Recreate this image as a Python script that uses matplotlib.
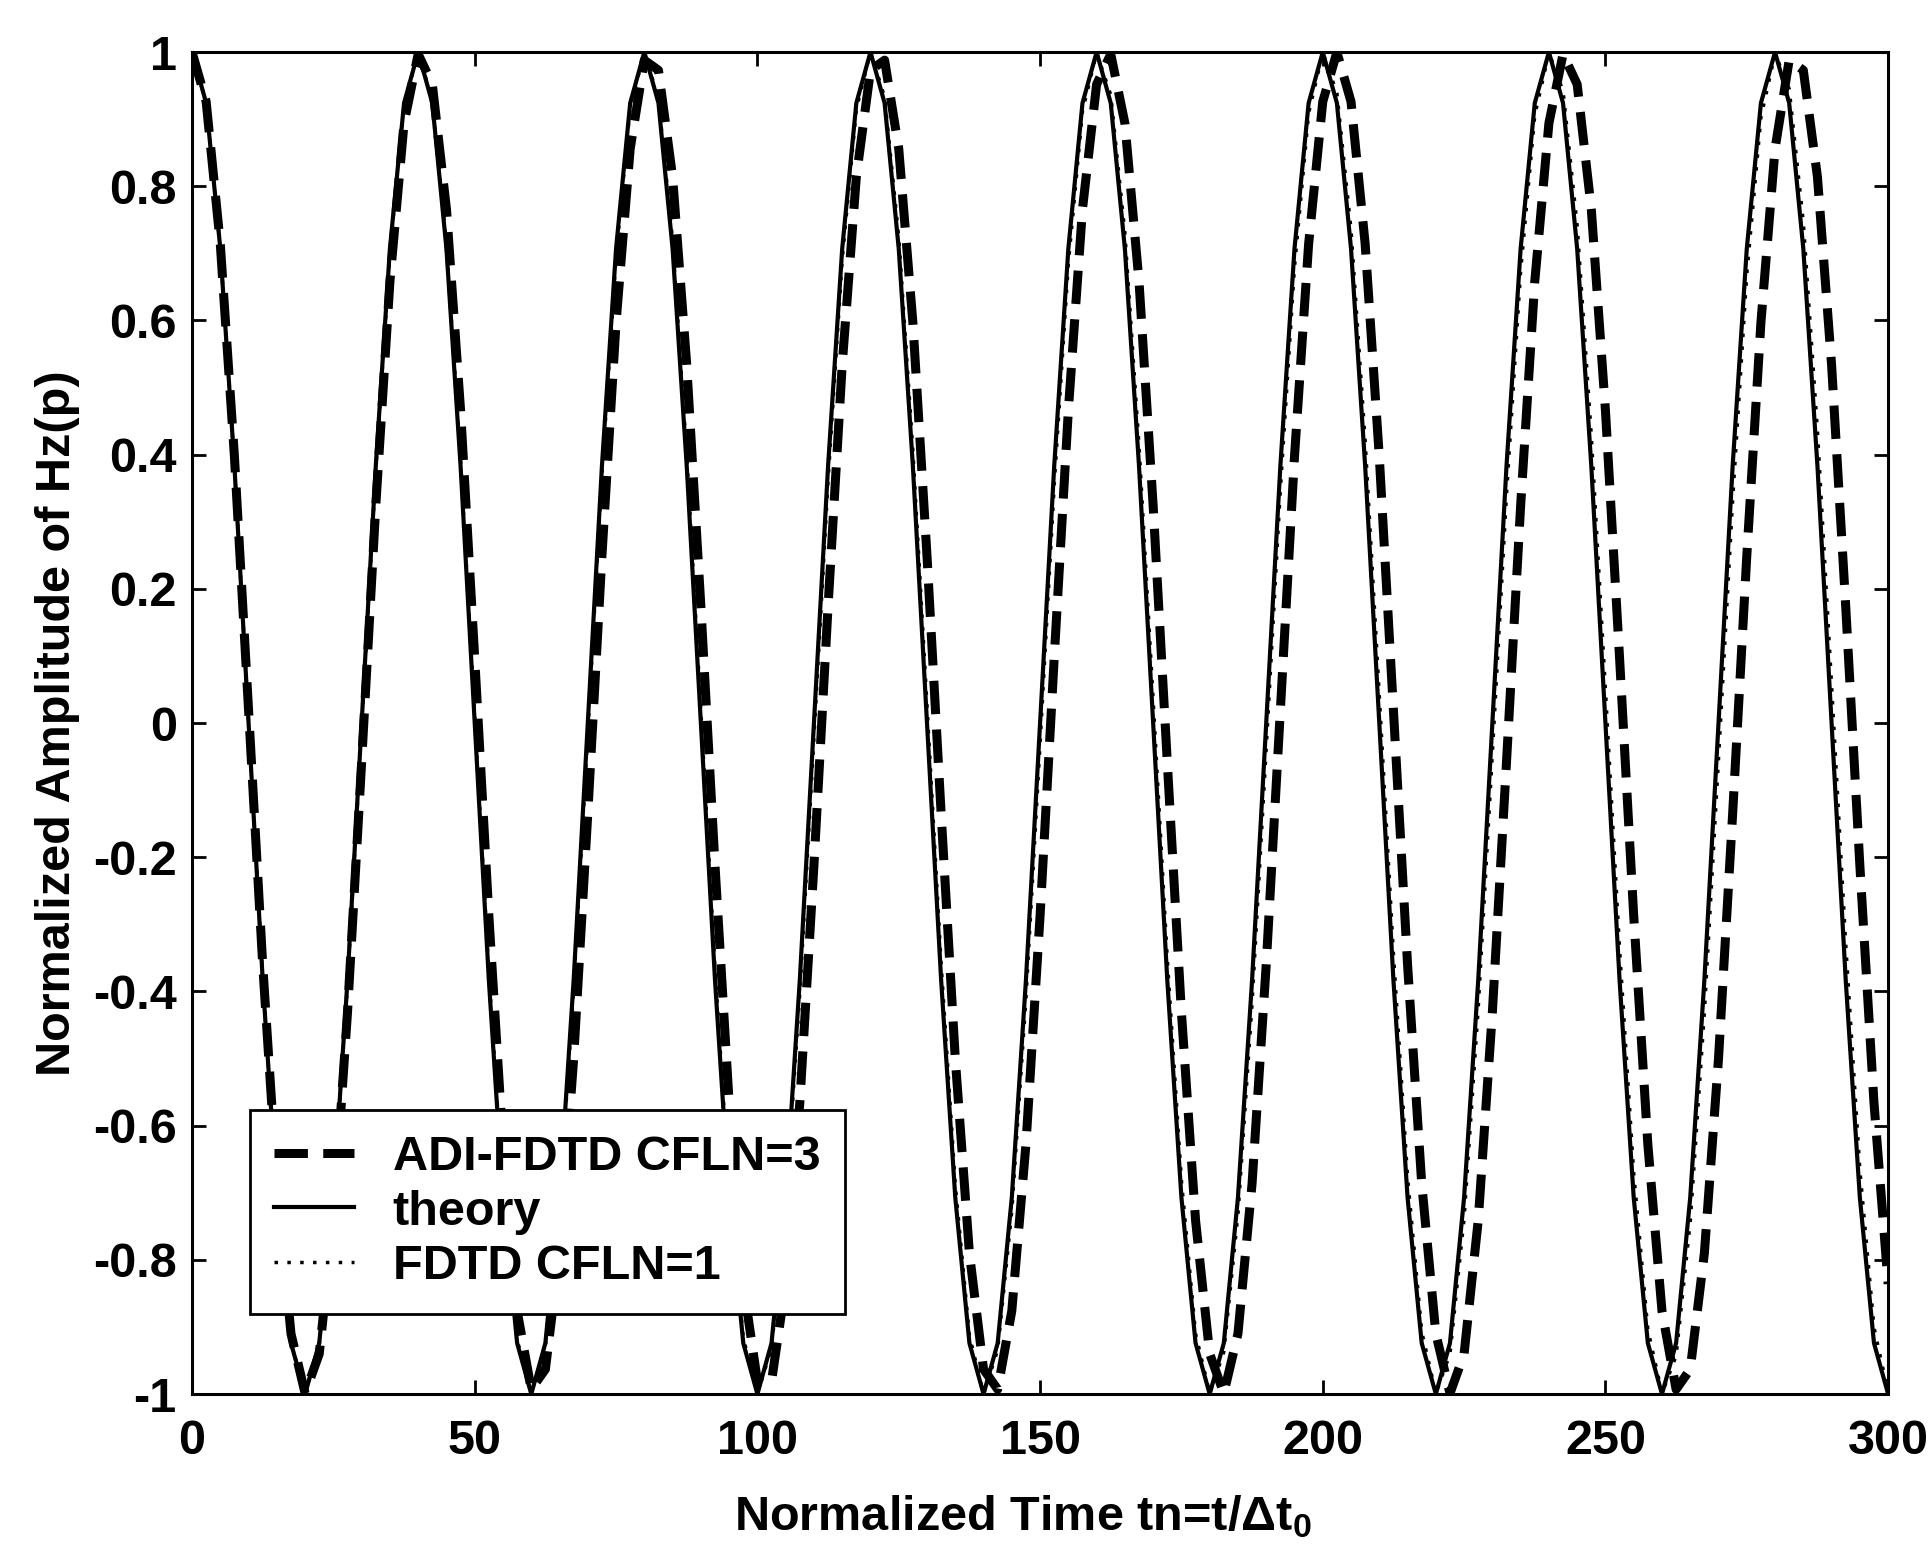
import matplotlib
matplotlib.use("Agg")
import matplotlib.pyplot as plt
import numpy as np

plt.rcParams["font.family"] = ["Liberation Sans", "DejaVu Sans"]
plt.rcParams["font.weight"] = "bold"
plt.rcParams["axes.labelweight"] = "bold"
plt.rcParams["axes.unicode_minus"] = False
plt.rcParams["mathtext.fontset"] = "custom"
plt.rcParams["mathtext.rm"] = "Liberation Sans:bold"
plt.rcParams["mathtext.it"] = "Liberation Sans:bold"

# normalized time samples, tn = 0 ... 300 in steps of 2.5
tn = np.linspace(0, 300, 121)

# Hz(p) at the observation point, normalized
theory = [
    1.000, 0.924, 0.707, 0.383, 0.000, -0.383, -0.707, -0.924,
    -1.000, -0.924, -0.707, -0.383, 0.000, 0.383, 0.707, 0.924,
    1.000, 0.924, 0.707, 0.383, 0.000, -0.383, -0.707, -0.924,
    -1.000, -0.924, -0.707, -0.383, 0.000, 0.383, 0.707, 0.924,
    1.000, 0.924, 0.707, 0.383, 0.000, -0.383, -0.707, -0.924,
    -1.000, -0.924, -0.707, -0.383, 0.000, 0.383, 0.707, 0.924,
    1.000, 0.924, 0.707, 0.383, 0.000, -0.383, -0.707, -0.924,
    -1.000, -0.924, -0.707, -0.383, 0.000, 0.383, 0.707, 0.924,
    1.000, 0.924, 0.707, 0.383, 0.000, -0.383, -0.707, -0.924,
    -1.000, -0.924, -0.707, -0.383, 0.000, 0.383, 0.707, 0.924,
    1.000, 0.924, 0.707, 0.383, 0.000, -0.383, -0.707, -0.924,
    -1.000, -0.924, -0.707, -0.383, 0.000, 0.383, 0.707, 0.924,
    1.000, 0.924, 0.707, 0.383, 0.000, -0.383, -0.707, -0.924,
    -1.000, -0.924, -0.707, -0.383, 0.000, 0.383, 0.707, 0.924,
    1.000, 0.924, 0.707, 0.383, 0.000, -0.383, -0.707, -0.924,
    -1.000,
]

adi_cfln3 = [
    1.000, 0.926, 0.714, 0.397, 0.019, -0.360, -0.686, -0.910,
    -0.999, -0.940, -0.741, -0.431, -0.058, 0.324, 0.658, 0.894,
    0.997, 0.952, 0.766, 0.466, 0.097, -0.287, -0.628, -0.876,
    -0.993, -0.963, -0.790, -0.500, -0.135, 0.249, 0.597, 0.856,
    0.988, 0.973, 0.814, 0.534, 0.174, -0.212, -0.566, -0.836,
    -0.981, -0.981, -0.836, -0.566, -0.212, 0.174, 0.534, 0.814,
    0.973, 0.988, 0.856, 0.597, 0.249, -0.135, -0.500, -0.790,
    -0.963, -0.993, -0.876, -0.628, -0.287, 0.097, 0.466, 0.766,
    0.952, 0.997, 0.894, 0.658, 0.324, -0.058, -0.431, -0.741,
    -0.940, -0.999, -0.910, -0.686, -0.360, 0.019, 0.397, 0.714,
    0.926, 1.000, 0.926, 0.714, 0.397, 0.019, -0.360, -0.686,
    -0.910, -0.999, -0.940, -0.741, -0.431, -0.058, 0.324, 0.658,
    0.894, 0.997, 0.952, 0.766, 0.466, 0.097, -0.287, -0.628,
    -0.876, -0.993, -0.963, -0.790, -0.500, -0.135, 0.249, 0.597,
    0.856, 0.988, 0.973, 0.814, 0.534, 0.174, -0.212, -0.566,
    -0.836,
]

fdtd_cfln1 = [
    1.000, 0.924, 0.707, 0.384, 0.002, -0.380, -0.705, -0.922,
    -1.000, -0.925, -0.710, -0.388, -0.006, 0.377, 0.702, 0.921,
    1.000, 0.927, 0.713, 0.391, 0.010, -0.373, -0.699, -0.919,
    -1.000, -0.928, -0.716, -0.395, -0.014, 0.370, 0.696, 0.918,
    1.000, 0.930, 0.719, 0.399, 0.018, -0.366, -0.694, -0.916,
    -1.000, -0.931, -0.721, -0.402, -0.022, 0.362, 0.691, 0.915,
    1.000, 0.933, 0.724, 0.406, 0.026, -0.359, -0.688, -0.913,
    -1.000, -0.934, -0.727, -0.410, -0.030, 0.355, 0.685, 0.912,
    0.999, 0.936, 0.730, 0.413, 0.034, -0.352, -0.682, -0.910,
    -0.999, -0.937, -0.732, -0.417, -0.037, 0.348, 0.680, 0.909,
    0.999, 0.939, 0.735, 0.420, 0.041, -0.344, -0.677, -0.907,
    -0.999, -0.940, -0.738, -0.424, -0.045, 0.341, 0.674, 0.906,
    0.999, 0.942, 0.741, 0.428, 0.049, -0.337, -0.671, -0.904,
    -0.999, -0.943, -0.743, -0.431, -0.053, 0.333, 0.669, 0.903,
    0.998, 0.945, 0.746, 0.435, 0.056, -0.330, -0.666, -0.901,
    -0.998,
]

xticks = [0, 50, 100, 150, 200, 250, 300]
yticks = [-1, -0.8, -0.6, -0.4, -0.2, 0, 0.2, 0.4, 0.6, 0.8, 1]
ytick_labels = ["-1", "-0.8", "-0.6", "-0.4", "-0.2", "0",
                "0.2", "0.4", "0.6", "0.8", "1"]

fig = plt.figure(figsize=(19.3, 15.55), dpi=100)
ax = fig.add_axes([0.0995, 0.1035, 0.8788, 0.863])

ax.plot(tn, adi_cfln3, color="k", lw=6.5, dashes=(3.7, 1.7),
        label="ADI-FDTD CFLN=3")
ax.plot(tn, theory, color="k", lw=3, label="theory")
ax.plot(tn, fdtd_cfln1, color="k", lw=2.5, dashes=(1, 2.7),
        label="FDTD CFLN=1")

ax.set_xlim(0, 300)
ax.set_ylim(-1, 1)
ax.set_xticks(xticks)
ax.set_yticks(yticks)
ax.set_yticklabels(ytick_labels)
ax.tick_params(direction="in", length=10, width=2, top=True, right=True,
               labelsize=35)
ax.tick_params(axis="x", pad=18)
ax.tick_params(axis="y", pad=11)
for sp in ax.spines.values():
    sp.set_linewidth(2.2)

ax.set_xlabel(r"Normalized Time tn=t/Δt$_0$", fontsize=35)
ax.set_ylabel("Normalized Amplitude of Hz(p)", fontsize=35)
ax.xaxis.set_label_coords(0.49, -0.0738)
ax.yaxis.set_label_coords(-0.066, 0.5)

leg = ax.legend(loc="lower left", bbox_to_anchor=(0.034, 0.060),
                borderaxespad=0, fontsize=35, handlelength=1.64,
                handletextpad=0.8, borderpad=0.5, labelspacing=0.2,
                fancybox=False, framealpha=1, edgecolor="k")
leg.get_frame().set_linewidth(2)

fig.savefig("out.png", dpi=100)
